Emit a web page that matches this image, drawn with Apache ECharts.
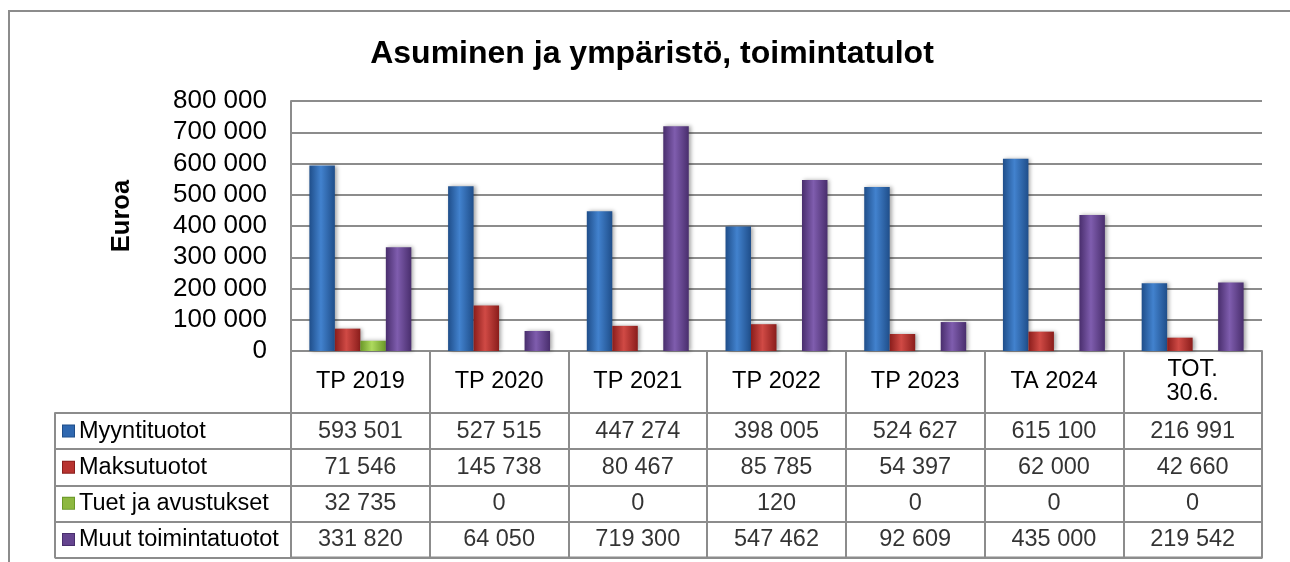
<!DOCTYPE html>
<html>
<head>
<meta charset="utf-8">
<script src="https://cdn.jsdelivr.net/npm/echarts@6/dist/echarts.min.js"></script>
<style>html,body{margin:0;padding:0;background:#fff;}#c{width:1290px;height:562px;}</style>
</head>
<body>
<div id="c"></div>
<script>
// ---- data ----
const categories = ['TP 2019', 'TP 2020', 'TP 2021', 'TP 2022', 'TP 2023', 'TA 2024', 'TOT.\n30.6.'];
const seriesNames = ['Myyntituotot', 'Maksutuotot', 'Tuet ja avustukset', 'Muut toimintatuotot'];
const myyntituotot = [593501, 527515, 447274, 398005, 524627, 615100, 216991];
const maksutuotot = [71546, 145738, 80467, 85785, 54397, 62000, 42660];
const tuet = [32735, 0, 0, 120, 0, 0, 0];
const muut = [331820, 64050, 719300, 547462, 92609, 435000, 219542];
const yTicks = [0, 100000, 200000, 300000, 400000, 500000, 600000, 700000, 800000];

const seriesValues = [myyntituotot, maksutuotot, tuet, muut];
const palette = [
  { edge: '#1F4E8A', mid: '#4282CE', solid: '#2F68B0' },
  { edge: '#8A1D1B', mid: '#D04A45', solid: '#B83330' },
  { edge: '#6A9828', mid: '#AEDA5E', solid: '#8DB840' },
  { edge: '#492E6D', mid: '#7F5DAE', solid: '#65448F' }
];
const FONT = '"Liberation Sans", Arial, sans-serif';
const GRID_COLOR = '#8c8c8c';
const fmt = v => String(v).replace(/\B(?=(\d{3})+(?!\d))/g, ' ');

const chart = echarts.init(document.getElementById('c'), null, { renderer: 'canvas' });

const barSeries = seriesValues.map((vals, i) => ({
  name: seriesNames[i],
  type: 'bar',
  xAxisIndex: 0, yAxisIndex: 0,
  data: vals,
  barGap: '0%',
  barCategoryGap: '26.5%',
  itemStyle: {
    color: {
      type: 'linear', x: 0, y: 0, x2: 1, y2: 0,
      colorStops: [
        { offset: 0, color: palette[i].edge },
        { offset: 0.45, color: palette[i].mid },
        { offset: 1, color: palette[i].edge }
      ]
    },
    shadowColor: 'rgba(0,0,0,0.35)', shadowBlur: 4, shadowOffsetX: 2, shadowOffsetY: 0
  },
  z: 3
}));

const cellData = [];
seriesValues.forEach((vals, si) => vals.forEach((v, ci) => cellData.push([ci, si, v])));

const rich = { t: { fontSize: 23.5, fontFamily: FONT, color: '#000', padding: [0, 0, 0, 5] } };
palette.forEach((p, i) => {
  rich['i' + i] = { width: 11, height: 11, backgroundColor: p.solid, borderColor: p.edge, borderWidth: 1 };
});

const option = {
  animation: false,
  backgroundColor: '#fff',
  textStyle: { fontFamily: FONT },
  title: {
    text: 'Asuminen ja ympäristö, toimintatulot',
    left: 647, textAlign: 'center', top: 31,
    textStyle: { fontSize: 32, fontWeight: 'bold', color: '#000', fontFamily: FONT, lineHeight: 36 }
  },
  graphic: [
    { type: 'rect', shape: { x: 9, y: 11, width: 1320, height: 620 }, style: { fill: 'none', stroke: GRID_COLOR, lineWidth: 2 }, z: 0 },
    { type: 'text', x: 122, y: 216, rotation: Math.PI / 2,
      style: { text: 'Euroa', font: 'bold 25.5px ' + FONT, fill: '#000', textAlign: 'center', textVerticalAlign: 'middle' } }
  ],
  grid: [
    { left: 291, right: 28, top: 101, bottom: 211 },
    { left: 291, right: 28, top: 413, bottom: 4.5, show: true, borderColor: GRID_COLOR, borderWidth: 2 }
  ],
  xAxis: [
    {
      type: 'category', gridIndex: 0, data: categories,
      axisLine: { show: true, lineStyle: { color: GRID_COLOR, width: 2 } },
      axisTick: { show: true, length: 62, interval: 0, alignWithLabel: false, lineStyle: { color: GRID_COLOR, width: 2 } },
      axisLabel: { show: true, interval: 0, margin: 31, verticalAlign: 'middle', fontSize: 23.5, lineHeight: 24, color: '#000', fontFamily: FONT },
      splitLine: { show: false }
    },
    {
      type: 'category', gridIndex: 1, data: categories,
      axisLine: { show: false }, axisTick: { show: false }, axisLabel: { show: false },
      splitLine: { show: true, interval: 0, lineStyle: { color: GRID_COLOR, width: 2 } }
    }
  ],
  yAxis: [
    {
      type: 'value', gridIndex: 0, min: 0, max: 800000, interval: 100000,
      axisLine: { show: true, lineStyle: { color: GRID_COLOR, width: 2 } },
      axisTick: { show: false },
      axisLabel: { fontSize: 26, color: '#000', margin: 24, fontFamily: FONT, formatter: v => fmt(v) },
      splitLine: { show: true, lineStyle: { color: GRID_COLOR, width: 2 } }
    },
    {
      type: 'category', gridIndex: 1, data: seriesNames, inverse: true,
      axisLine: { show: false },
      axisTick: { show: true, length: 236, interval: 0, alignWithLabel: false, lineStyle: { color: GRID_COLOR, width: 2 } },
      axisLabel: {
        show: true, interval: 0, align: 'left', margin: 228,
        formatter: (v, idx) => '{i' + idx + '|}{t|' + v + '}',
        rich: rich
      },
      splitLine: { show: true, interval: 0, lineStyle: { color: GRID_COLOR, width: 2 } }
    },
    {
      type: 'category', gridIndex: 1, data: seriesNames, inverse: true, position: 'left', offset: 236,
      axisLine: { show: true, lineStyle: { color: GRID_COLOR, width: 2 } },
      axisTick: { show: false }, axisLabel: { show: false }, splitLine: { show: false }
    }
  ],
  series: barSeries.concat([{
    type: 'scatter', xAxisIndex: 1, yAxisIndex: 1,
    data: cellData,
    symbolSize: 1,
    itemStyle: { color: 'rgba(0,0,0,0)' },
    label: {
      show: true, position: 'inside', color: '#000', fontSize: 23.5, fontFamily: FONT,
      formatter: p => fmt(p.value[2])
    },
    silent: true
  }])
};
chart.setOption(option);
</script>
</body>
</html>
